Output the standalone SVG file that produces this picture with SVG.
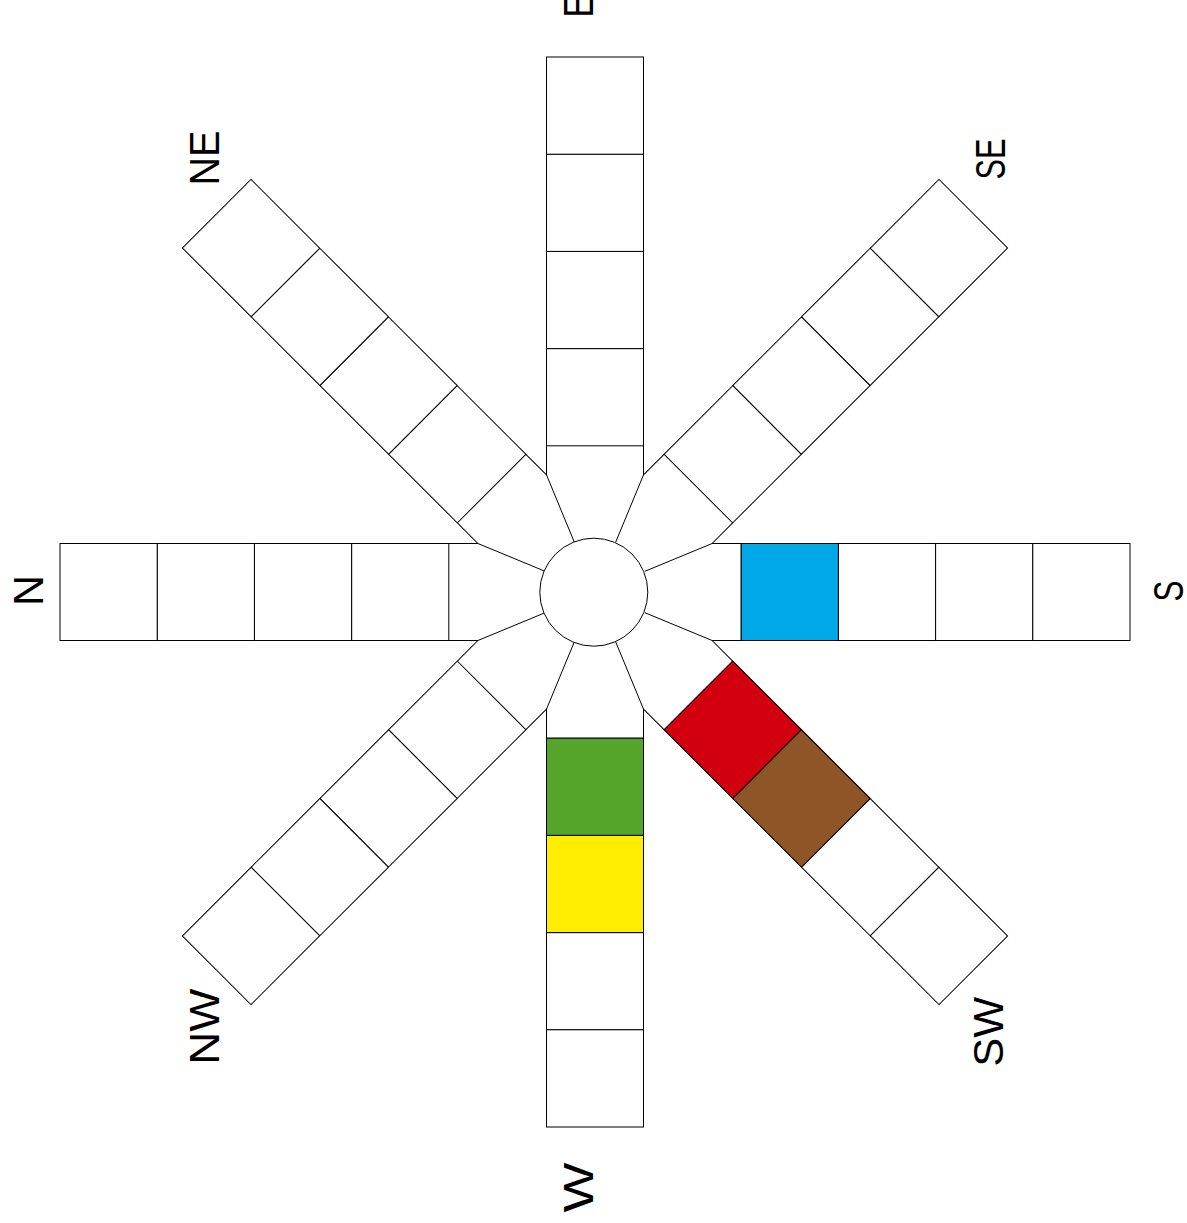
<svg xmlns="http://www.w3.org/2000/svg" xmlns:xlink="http://www.w3.org/1999/xlink" width="1187" height="1223" viewBox="0 0 1187 1223">
<style>
.c{fill:#fff;stroke:#000;stroke-width:1}
.ln{fill:none;stroke:#000;stroke-width:1}
.lbl{font-family:"Liberation Sans",Arial,sans-serif;font-size:43px;fill:#000;text-anchor:middle}
</style>
<defs>
<g id="arm">
<rect class="c" x="146.2" y="-48.5" width="97.2" height="97"/>
<rect class="c" x="243.4" y="-48.5" width="97.2" height="97"/>
<rect class="c" x="340.6" y="-48.5" width="97.2" height="97"/>
<rect class="c" x="437.8" y="-48.5" width="97.2" height="97"/>
<line class="ln" x1="117.1" y1="-48.5" x2="146.2" y2="-48.5"/>
<line class="ln" x1="117.1" y1="48.5" x2="146.2" y2="48.5"/>
</g>
</defs>
<rect width="1187" height="1223" fill="#fff"/>
<g id="arm-S" transform="translate(595,592)"><use xlink:href="#arm"/><rect x="146.2" y="-48.5" width="97.2" height="97" fill="#00A8E8" stroke="#000" stroke-width="1"/></g>
<g id="arm-SE" transform="translate(595,592) rotate(-45)"><use xlink:href="#arm"/></g>
<g id="arm-E" transform="translate(595,592) rotate(-90)"><use xlink:href="#arm"/></g>
<g id="arm-NE" transform="translate(595,592) rotate(-135)"><use xlink:href="#arm"/></g>
<g id="arm-N" transform="translate(595,592) rotate(180)"><use xlink:href="#arm"/></g>
<g id="arm-NW" transform="translate(595,592) rotate(135)"><use xlink:href="#arm"/></g>
<g id="arm-W" transform="translate(595,592) rotate(90)"><use xlink:href="#arm"/><rect x="146.2" y="-48.5" width="97.2" height="97" fill="#55A52A" stroke="#000" stroke-width="1"/><rect x="243.4" y="-48.5" width="97.2" height="97" fill="#FFED00" stroke="#000" stroke-width="1"/></g>
<g id="arm-SW" transform="translate(595,592) rotate(45)"><use xlink:href="#arm"/><rect x="146.2" y="-48.5" width="97.2" height="97" fill="#D2000F" stroke="#000" stroke-width="1"/><rect x="243.4" y="-48.5" width="97.2" height="97" fill="#8F5526" stroke="#000" stroke-width="1"/></g>
<g id="connectors" transform="translate(595,592)">
<path class="ln" d="M49.9,20.7L117.1,48.5M49.9,-20.7L117.1,-48.5M20.7,49.9L48.5,117.1M-20.7,49.9L-48.5,117.1M-49.9,20.7L-117.1,48.5M-49.9,-20.7L-117.1,-48.5M20.7,-49.9L48.5,-117.1M-20.7,-49.9L-48.5,-117.1"/>
</g>
<g id="hub"><circle class="c" cx="593.8" cy="592.2" r="54"/></g>
<g id="labels">
<text class="lbl" transform="translate(42.7,590.5) rotate(-90)" textLength="31" lengthAdjust="spacingAndGlyphs">N</text>
<text class="lbl" transform="translate(593,6) rotate(-90)" textLength="23" lengthAdjust="spacingAndGlyphs">E</text>
<text class="lbl" transform="translate(219.3,158) rotate(-90)" textLength="55" lengthAdjust="spacingAndGlyphs">NE</text>
<text class="lbl" transform="translate(1005,159) rotate(-90)" textLength="41" lengthAdjust="spacingAndGlyphs">SE</text>
<text class="lbl" transform="translate(1183,591) rotate(-90)" textLength="21" lengthAdjust="spacingAndGlyphs">S</text>
<text class="lbl" transform="translate(593,1187.5) rotate(-90)" textLength="50" lengthAdjust="spacingAndGlyphs">W</text>
<text class="lbl" transform="translate(1003,1031.7) rotate(-90)" textLength="70" lengthAdjust="spacingAndGlyphs">SW</text>
<text class="lbl" transform="translate(219,1026.7) rotate(-90)" textLength="76" lengthAdjust="spacingAndGlyphs">NW</text>
</g>
</svg>
